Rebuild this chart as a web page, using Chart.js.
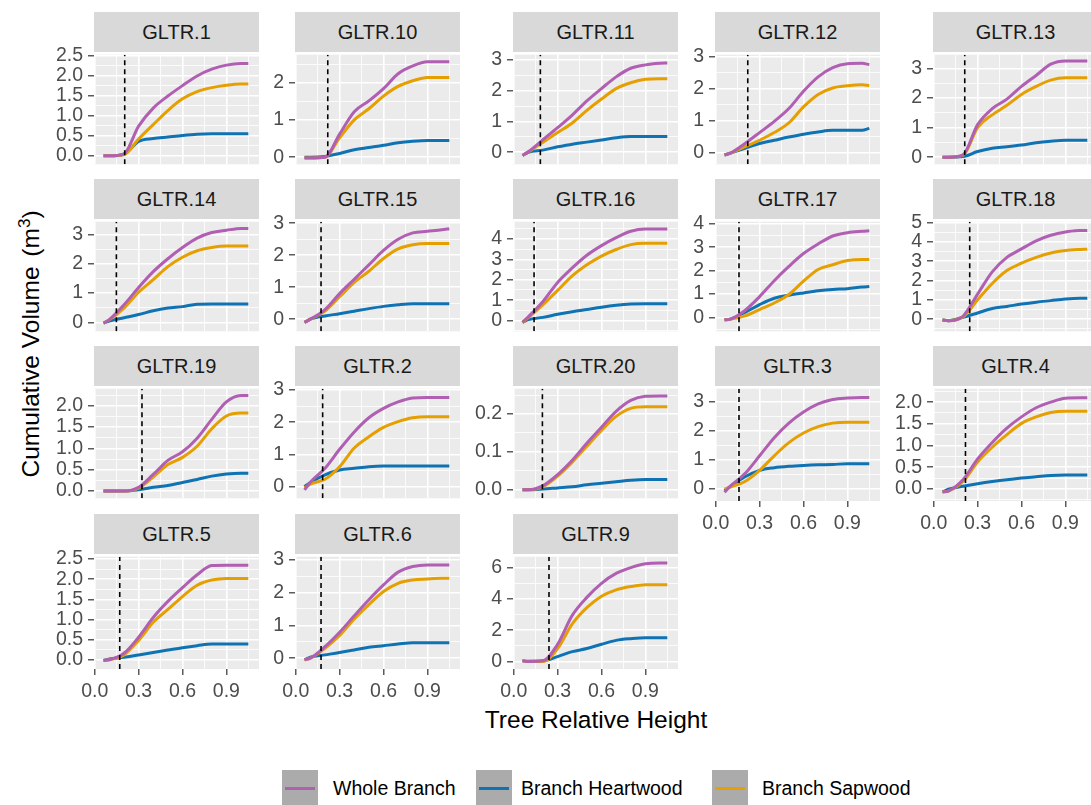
<!DOCTYPE html>
<html>
<head>
<meta charset="utf-8">
<script src="https://cdn.jsdelivr.net/npm/chart.js@4.4.1/dist/chart.umd.min.js"></script>
<style>
  html, body { margin: 0; padding: 0; background: #fff; }
  body { width: 1091px; height: 805px; position: relative; overflow: hidden;
         font-family: "Liberation Sans", Arial, sans-serif; }
  canvas { position: absolute; }
  .strip { position: absolute; width: 165px; height: 40px; background: #D9D9D9; color: #1A1A1A;
           font-size: 20px; line-height: 40px; text-align: center; }
  .ytitle { position: absolute; left: 30px; top: 344px; font-size: 24.5px; white-space: nowrap;
            transform: translate(-50%, -50%) rotate(-90deg); color: #000; }
  .ytitle sup { font-size: 17px; }
  .ytitle span { margin-left: 3px; }
  .xtitle { position: absolute; left: 596px; top: 720px; font-size: 24.5px; white-space: nowrap;
            transform: translate(-50%, -50%); color: #000; }
  .key { position: absolute; top: 770px; width: 36px; height: 36px; background: #ABABAB; }
  .key i { position: absolute; left: 3px; right: 3px; top: 16.5px; height: 3px; }
  .ltext { position: absolute; top: 776px; font-size: 19.5px; line-height: 24px; color: #000; white-space: nowrap; }
</style>
</head>
<body>
<div class="ytitle">Cumulative Volume <span>(m<sup>3</sup>)</span></div>
<div class="xtitle">Tree Relative Height</div>
<script>
'use strict';

// ── data ────────────────────────────────────────────────────────────────
var panels = ['GLTR.1', 'GLTR.10', 'GLTR.11', 'GLTR.12', 'GLTR.13',
              'GLTR.14', 'GLTR.15', 'GLTR.16', 'GLTR.17', 'GLTR.18',
              'GLTR.19', 'GLTR.2', 'GLTR.20', 'GLTR.3', 'GLTR.4',
              'GLTR.5', 'GLTR.6', 'GLTR.9'];

var relHeight = [0.06, 0.1, 0.2, 0.3, 0.4, 0.5, 0.6, 0.7, 0.8, 0.9, 1.0, 1.05];

var wholeBranch = [
    [0, 0, 0.05, 0.74, 1.19, 1.49, 1.75, 1.99, 2.16, 2.26, 2.30, 2.30],
    [-0.02, -0.02, 0.0, 0.62, 1.22, 1.51, 1.84, 2.24, 2.45, 2.56, 2.56, 2.56],
    [-0.1, 0.02, 0.41, 0.8, 1.21, 1.67, 2.07, 2.45, 2.73, 2.84, 2.89, 2.9],
    [-0.08, -0.02, 0.28, 0.62, 0.97, 1.37, 1.91, 2.36, 2.65, 2.77, 2.78, 2.74],
    [0, 0, 0.08, 1.1, 1.64, 1.96, 2.39, 2.76, 3.14, 3.25, 3.25, 3.25],
    [-0.02, 0.1, 0.6, 1.19, 1.73, 2.17, 2.55, 2.87, 3.06, 3.14, 3.2, 3.2],
    [-0.1, 0.0, 0.3, 0.8, 1.25, 1.7, 2.15, 2.5, 2.7, 2.75, 2.8, 2.83],
    [-0.08, 0.19, 0.94, 1.87, 2.58, 3.2, 3.67, 4.06, 4.37, 4.48, 4.48, 4.48],
    [-0.1, -0.07, 0.3, 0.89, 1.57, 2.18, 2.73, 3.14, 3.48, 3.62, 3.68, 3.7],
    [-0.05, -0.08, 0.15, 1.3, 2.45, 3.2, 3.64, 4.06, 4.35, 4.52, 4.59, 4.6],
    [0, 0, 0, 0.09, 0.39, 0.72, 0.92, 1.24, 1.68, 2.09, 2.24, 2.24],
    [-0.1, 0.14, 0.57, 1.16, 1.7, 2.14, 2.43, 2.63, 2.75, 2.77, 2.77, 2.77],
    [0, 0, 0.011, 0.04, 0.078, 0.123, 0.165, 0.207, 0.236, 0.247, 0.248, 0.248],
    [-0.11, 0.1, 0.53, 1.14, 1.76, 2.26, 2.64, 2.92, 3.07, 3.12, 3.14, 3.14],
    [-0.07, -0.05, 0.21, 0.69, 1.07, 1.4, 1.66, 1.87, 2.0, 2.09, 2.1, 2.1],
    [-0.02, 0, 0.16, 0.56, 1.05, 1.45, 1.79, 2.11, 2.34, 2.35, 2.35, 2.35],
    [-0.05, 0, 0.35, 0.79, 1.29, 1.78, 2.23, 2.62, 2.79, 2.84, 2.84, 2.84],
    [0.04, 0, 0.04, 1.1, 2.95, 4.1, 5.0, 5.63, 6.0, 6.25, 6.29, 6.29]
];

var heartwood = [
    [0, 0, 0.04, 0.36, 0.43, 0.47, 0.51, 0.54, 0.55, 0.55, 0.55, 0.55],
    [0.0, 0.0, 0.02, 0.10, 0.20, 0.26, 0.32, 0.39, 0.43, 0.45, 0.45, 0.45],
    [-0.1, 0.0, 0.07, 0.18, 0.26, 0.33, 0.4, 0.47, 0.51, 0.51, 0.51, 0.51],
    [-0.08, -0.02, 0.13, 0.28, 0.38, 0.48, 0.57, 0.64, 0.69, 0.69, 0.69, 0.75],
    [0, 0, 0.02, 0.19, 0.3, 0.35, 0.41, 0.49, 0.54, 0.57, 0.57, 0.57],
    [-0.02, 0.05, 0.16, 0.27, 0.4, 0.49, 0.54, 0.62, 0.63, 0.63, 0.63, 0.63],
    [-0.1, 0.0, 0.1, 0.17, 0.25, 0.33, 0.4, 0.45, 0.48, 0.48, 0.48, 0.48],
    [-0.08, 0.05, 0.16, 0.31, 0.44, 0.55, 0.66, 0.75, 0.81, 0.83, 0.83, 0.83],
    [-0.1, -0.07, 0.22, 0.55, 0.82, 0.95, 1.05, 1.14, 1.2, 1.23, 1.3, 1.32],
    [-0.05, -0.08, 0.1, 0.32, 0.55, 0.66, 0.78, 0.88, 0.96, 1.04, 1.08, 1.08],
    [0, 0, 0, 0.03, 0.09, 0.13, 0.2, 0.27, 0.35, 0.4, 0.42, 0.42],
    [0.0, 0.13, 0.37, 0.52, 0.57, 0.62, 0.64, 0.64, 0.64, 0.64, 0.64, 0.64],
    [0, 0, 0.002, 0.005, 0.008, 0.013, 0.017, 0.021, 0.025, 0.027, 0.027, 0.027],
    [-0.05, 0.09, 0.42, 0.64, 0.73, 0.78, 0.81, 0.83, 0.84, 0.87, 0.87, 0.87],
    [-0.07, -0.01, 0.06, 0.12, 0.17, 0.21, 0.25, 0.28, 0.31, 0.32, 0.32, 0.32],
    [-0.02, 0.02, 0.06, 0.12, 0.18, 0.24, 0.3, 0.35, 0.39, 0.39, 0.39, 0.39],
    [-0.05, 0.03, 0.1, 0.17, 0.25, 0.33, 0.38, 0.43, 0.47, 0.47, 0.47, 0.47],
    [0.04, 0.02, 0.04, 0.31, 0.63, 0.83, 1.1, 1.35, 1.46, 1.52, 1.52, 1.52]
];

var sapwood = [
    [0, 0, 0.03, 0.42, 0.78, 1.13, 1.42, 1.60, 1.70, 1.76, 1.79, 1.79],
    [-0.02, -0.02, 0.0, 0.52, 1.0, 1.3, 1.64, 1.9, 2.05, 2.14, 2.14, 2.14],
    [-0.1, 0.01, 0.33, 0.64, 0.95, 1.36, 1.73, 2.07, 2.26, 2.37, 2.39, 2.39],
    [-0.08, -0.02, 0.18, 0.38, 0.62, 0.92, 1.42, 1.81, 2.01, 2.08, 2.11, 2.09],
    [0, 0, 0.06, 1.0, 1.43, 1.75, 2.12, 2.39, 2.6, 2.68, 2.68, 2.68],
    [-0.02, 0.09, 0.49, 1.03, 1.46, 1.9, 2.22, 2.44, 2.55, 2.6, 2.6, 2.6],
    [-0.1, 0.0, 0.25, 0.7, 1.15, 1.5, 1.9, 2.2, 2.33, 2.37, 2.37, 2.37],
    [-0.08, 0.15, 0.78, 1.48, 2.19, 2.73, 3.16, 3.48, 3.72, 3.78, 3.78, 3.78],
    [-0.1, -0.07, 0.07, 0.34, 0.62, 0.98, 1.55, 2.05, 2.25, 2.43, 2.48, 2.48],
    [-0.05, -0.08, 0.12, 1.0, 1.85, 2.52, 2.9, 3.2, 3.43, 3.56, 3.61, 3.62],
    [0, 0, 0, 0.07, 0.33, 0.62, 0.79, 1.05, 1.46, 1.76, 1.83, 1.83],
    [-0.04, 0.08, 0.23, 0.62, 1.2, 1.55, 1.84, 2.02, 2.14, 2.17, 2.17, 2.17],
    [0, 0, 0.008, 0.036, 0.073, 0.115, 0.157, 0.194, 0.215, 0.219, 0.219, 0.219],
    [0, 0.07, 0.26, 0.64, 1.14, 1.59, 1.92, 2.14, 2.26, 2.29, 2.29, 2.29],
    [-0.07, -0.05, 0.17, 0.62, 0.96, 1.25, 1.51, 1.66, 1.76, 1.79, 1.79, 1.79],
    [-0.02, 0.0, 0.12, 0.48, 0.93, 1.25, 1.57, 1.85, 1.98, 2.02, 2.02, 2.02],
    [-0.05, 0.0, 0.3, 0.69, 1.19, 1.63, 2.03, 2.28, 2.38, 2.41, 2.43, 2.43],
    [0.04, 0, 0.0, 0.83, 2.4, 3.44, 4.17, 4.58, 4.79, 4.9, 4.9, 4.9]
];

// dashed reference height per tree
var cutHeight = [0.205, 0.219, 0.182, 0.219, 0.212, 0.148, 0.173, 0.139, 0.159, 0.246,
                 0.323, 0.184, 0.196, 0.159, 0.217, 0.171, 0.173, 0.241];

// y limits and break spacing per panel (free y scales)
var yLimits = [[-0.21, 2.52], [-0.19, 2.75], [-0.39, 3.17], [-0.37, 3.05], [-0.24, 3.46],
               [-0.3, 3.43], [-0.38, 3.05], [-0.52, 4.84], [-0.59, 4.09], [-0.63, 5.05],
               [-0.17, 2.4], [-0.36, 3.04], [-0.0225, 0.267], [-0.41, 3.44], [-0.28, 2.31],
               [-0.23, 2.56], [-0.33, 3.09], [-0.48, 6.7]];
var yBreakStep = [0.5, 1, 1, 1, 1, 1, 1, 1, 1, 1, 0.5, 1, 0.1, 1, 0.5, 0.5, 1, 2];

var xLimits = [-0.005, 1.123];
var xBreakStep = 0.3;

var seriesNames  = ['Whole Branch', 'Branch Heartwood', 'Branch Sapwood'];
var seriesColors = ['#B05FB3', '#0F72B2', '#E69F00'];

// ── layout ──────────────────────────────────────────────────────────────
var colLeft = [94, 295, 513, 715, 933];
var rowTop  = [52, 219, 386, 554];
var plotW = 165, plotH = 115, axisW = 60, padT = 14, padR = 10;

var panelBg = {
    id: 'panelBg',
    beforeDraw: function (chart) {
        var a = chart.chartArea, c = chart.ctx;
        c.save();
        c.fillStyle = '#EBEBEB';
        c.fillRect(a.left, a.top, a.right - a.left, a.bottom - a.top);
        c.restore();
    }
};

function makeTicks(lo, hi, step) {
    // major breaks plus minor half-way breaks
    var half = step / 2, out = [];
    var k0 = Math.ceil(lo / half - 1e-9), k1 = Math.floor(hi / half + 1e-9);
    for (var k = k0; k <= k1; k++) {
        out.push({ value: +(k * half).toFixed(6), isMajor: Math.abs(k % 2) === 0 });
    }
    return out;
}

function toPoints(ys) {
    return ys.map(function (y, j) { return { x: relHeight[j], y: y }; });
}

Chart.defaults.font.family = '"Liberation Sans", Arial, sans-serif';

panels.forEach(function (name, i) {
    var row = Math.floor(i / 5), col = i % 5;
    var bottom = row === 3 || (row === 2 && col >= 3);
    var lim = yLimits[i], step = yBreakStep[i];
    var decimals = step < 1 ? 1 : 0;

    var strip = document.createElement('div');
    strip.className = 'strip';
    strip.style.left = colLeft[col] + 'px';
    strip.style.top = (rowTop[row] - 40) + 'px';
    strip.textContent = name;
    document.body.appendChild(strip);

    var cv = document.createElement('canvas');
    var w = axisW + plotW + padR, h = padT + plotH + (bottom ? 40 : padT);
    cv.width = w; cv.height = h;
    cv.style.width = w + 'px'; cv.style.height = h + 'px';
    cv.style.left = (colLeft[col] - axisW) + 'px';
    cv.style.top = (rowTop[row] - padT) + 'px';
    document.body.appendChild(cv);

    var lineSet = function (k, arr) {
        return {
            label: seriesNames[k],
            data: toPoints(arr[i]),
            borderColor: seriesColors[k],
            borderWidth: 3,
            pointRadius: 0,
            fill: false,
            cubicInterpolationMode: 'monotone'
        };
    };

    new Chart(cv, {
        type: 'line',
        data: {
            datasets: [
                {
                    label: 'cut',
                    data: [{ x: cutHeight[i], y: lim[0] }, { x: cutHeight[i], y: lim[1] }],
                    borderColor: '#000',
                    borderWidth: 1.6,
                    borderDash: [5, 4],
                    pointRadius: 0
                },
                lineSet(0, wholeBranch),
                lineSet(2, sapwood),
                lineSet(1, heartwood)
            ]
        },
        options: {
            responsive: false,
            animation: false,
            devicePixelRatio: 1,
            layout: { padding: { left: 0, top: padT, right: padR, bottom: bottom ? 0 : padT } },
            plugins: { legend: { display: false }, tooltip: { enabled: false } },
            scales: {
                x: {
                    type: 'linear',
                    min: xLimits[0], max: xLimits[1],
                    bounds: 'data',
                    afterBuildTicks: function (s) { s.ticks = makeTicks(xLimits[0], xLimits[1], xBreakStep); },
                    afterFit: function (s) { s.height = bottom ? 40 : 0; },
                    border: { display: false },
                    grid: {
                        color: '#FFFFFF',
                        lineWidth: function (c) { return c.tick && c.tick.isMajor ? 1.6 : 0.8; },
                        drawTicks: true,
                        tickLength: 6,
                        tickWidth: 1.2,
                        tickColor: function (c) { return bottom && c.tick && c.tick.isMajor ? '#333333' : 'rgba(0,0,0,0)'; }
                    },
                    ticks: {
                        display: bottom,
                        autoSkip: false,
                        maxRotation: 0,
                        padding: 5,
                        color: '#4D4D4D',
                        font: { size: 19.5 },
                        callback: function (v, idx, ticks) { return ticks[idx].isMajor ? v.toFixed(1) : ''; }
                    }
                },
                y: {
                    type: 'linear',
                    min: lim[0], max: lim[1],
                    bounds: 'data',
                    afterBuildTicks: function (s) { s.ticks = makeTicks(lim[0], lim[1], step); },
                    afterFit: function (s) { s.width = axisW; },
                    border: { display: false },
                    grid: {
                        color: '#FFFFFF',
                        lineWidth: function (c) { return c.tick && c.tick.isMajor ? 1.6 : 0.8; },
                        drawTicks: true,
                        tickLength: 6,
                        tickWidth: 1.2,
                        tickColor: function (c) { return c.tick && c.tick.isMajor ? '#333333' : 'rgba(0,0,0,0)'; }
                    },
                    ticks: {
                        autoSkip: false,
                        padding: 5,
                        color: '#4D4D4D',
                        font: { size: 19.5 },
                        callback: function (v, idx, ticks) { return ticks[idx].isMajor ? v.toFixed(decimals) : ''; }
                    }
                }
            }
        },
        plugins: [panelBg]
    });
});

// ── legend ──────────────────────────────────────────────────────────────
var keyLeft  = [282, 476, 712];
var textLeft = [333, 521, 762];
seriesNames.forEach(function (name, k) {
    var key = document.createElement('div');
    key.className = 'key';
    key.style.left = keyLeft[k] + 'px';
    var ln = document.createElement('i');
    ln.style.background = seriesColors[k];
    key.appendChild(ln);
    document.body.appendChild(key);
    var t = document.createElement('div');
    t.className = 'ltext';
    t.style.left = textLeft[k] + 'px';
    t.textContent = name;
    document.body.appendChild(t);
});
</script>
</body>
</html>
